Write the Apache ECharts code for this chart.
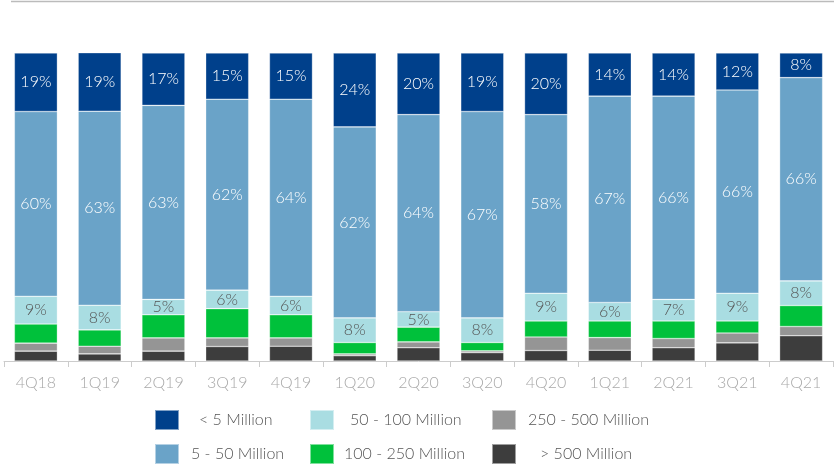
<!DOCTYPE html>
<html><head><meta charset="utf-8">
<script src="https://cdn.jsdelivr.net/npm/echarts@6/dist/echarts.min.js"></script>
<style>html,body{margin:0;padding:0;background:#fff}#c{width:834px;height:464px}</style>
</head><body><div id="c"></div>
<script>
const categories = ['4Q18','1Q19','2Q19','3Q19','4Q19','1Q20','2Q20','3Q20','4Q20','1Q21','2Q21','3Q21','4Q21'];
const under5 =    [19, 19, 17, 15, 15, 24, 20, 19, 20, 14, 14, 12, 8];
const m5to50 =    [60, 63, 63, 62, 64, 62, 64, 67, 58, 67, 66, 66, 66];
const m50to100 =  [9, 8, 5, 6, 6, 8, 5, 8, 9, 6, 7, 9, 8];
const m100to250 = [6.2, 5.3, 7.5, 9.5, 7.5, 3.7, 4.8, 2.7, 5.2, 5.4, 5.7, 3.9, 6.8];
const m250to500 = [2.6, 2.5, 4.3, 2.8, 2.7, 0.6, 1.9, 0.6, 4.4, 4.1, 3.0, 3.2, 3.0];
const over500 =   [3.2, 2.3, 3.2, 4.7, 4.8, 1.7, 4.3, 2.7, 3.4, 3.5, 4.3, 5.9, 8.2];
const colors = {
  '< 5 Million':'#00408b','5 - 50 Million':'#6aa3c8','50 - 100 Million':'#a9dde2',
  '100 - 250 Million':'#00c13b','250 - 500 Million':'#959595','> 500 Million':'#3d3d3d'
};
const FONT = 'Lato';
const FW = 300;
function mk(name, data, labelColor){
  return {
    name, type:'bar', stack:'s', data, barWidth:43,
    itemStyle:{color:colors[name], borderColor:'rgba(255,255,255,0.5)', borderWidth:0.6},
    label: labelColor ? {show:true, position:'inside', color:labelColor, fontFamily:FONT, fontWeight:FW, fontSize:16,
      formatter: p => Math.round(p.value) + '%'} : {show:false},
    emphasis:{disabled:true}
  };
}
const series = [
  mk('> 500 Million', over500),
  mk('250 - 500 Million', m250to500),
  mk('100 - 250 Million', m100to250),
  mk('50 - 100 Million', m50to100, '#555555'),
  mk('5 - 50 Million', m5to50, '#ffffff'),
  mk('< 5 Million', under5, '#ffffff')
];
function lg(name, left, top, pad){
  return {data:[name], left, top, padding:0, itemWidth:24, itemHeight:20, selectedMode:false,
    icon:'rect', textStyle:{color:'#555', fontFamily:FONT, fontWeight:FW, fontSize:16, padding:[0,0,0,pad]}};
}
const chart = echarts.init(document.getElementById('c'));
chart.setOption({
  animation:false,
  grid:{left:4, right:1, top:53, bottom:103},
  xAxis:{type:'category', data:categories,
    axisLine:{lineStyle:{color:'#cccccc'}},
    axisTick:{show:true, length:6, lineStyle:{color:'#cccccc'}},
    axisLabel:{color:'#a9a9a9', fontFamily:FONT, fontWeight:FW, fontSize:16, margin:14}},
  yAxis:{type:'value', min:0, max:100, show:false, splitLine:{show:false}},
  legend:[
    lg('< 5 Million',154,409,15),
    lg('5 - 50 Million',154,443,7),
    lg('50 - 100 Million',309,409,11),
    lg('100 - 250 Million',309,443,5),
    lg('250 - 500 Million',491,409,7),
    lg('> 500 Million',491,443,19)
  ],
  graphic:[{type:'line', shape:{x1:11,y1:1.5,x2:834,y2:1.5}, style:{stroke:'#bbbbbb', lineWidth:1.5}}],
  series
});
</script></body></html>
